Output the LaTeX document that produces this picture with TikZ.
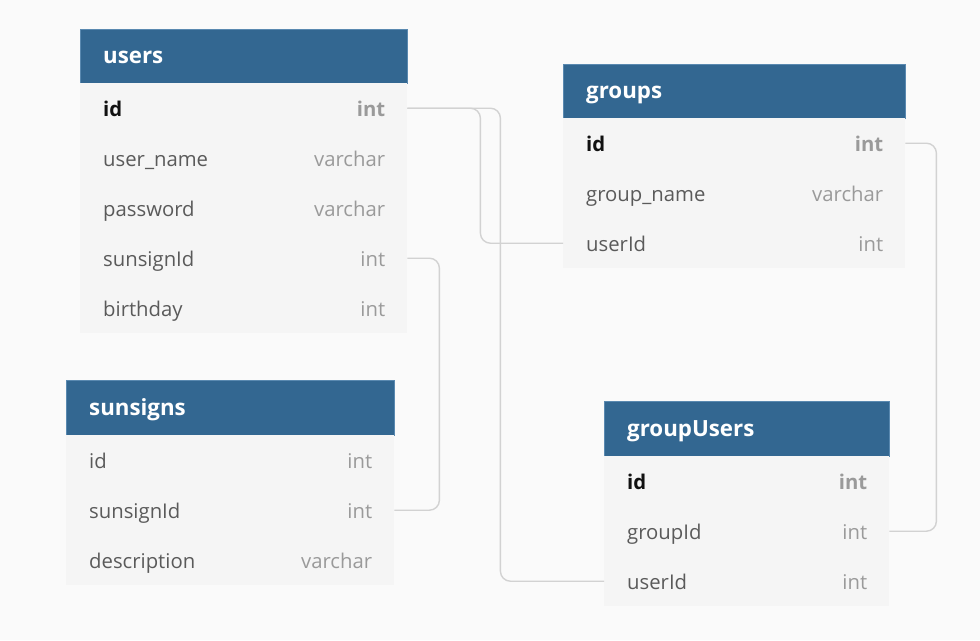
\documentclass[tikz,border=0pt]{standalone}
\usepackage{fontspec}
\setmainfont{Open Sans}
\definecolor{bg}{HTML}{FAFAFA}
\definecolor{hdrblue}{HTML}{336791}
\definecolor{hdrborder}{HTML}{5A89B0}
\definecolor{rowgray}{HTML}{F5F5F5}
\definecolor{namegray}{HTML}{5A5A5A}
\definecolor{typegray}{HTML}{9A9A9A}
\definecolor{keyblack}{HTML}{111111}
\definecolor{linkgray}{HTML}{D2D2D2}
\newcommand\hdrfont{\fontsize{22.3pt}{25pt}\selectfont\bfseries}
\newcommand\bodyfnt{\fontsize{20.3pt}{24pt}\selectfont}
\tikzset{
  hdr/.style={fill=hdrblue, draw=hdrborder, line width=0.6pt, minimum height=54pt, anchor=north west, inner sep=0pt},
  hdrtext/.style={anchor=base west, text=white, font=\hdrfont, inner sep=0pt},
  rowbox/.style={fill=rowgray, draw=none, minimum height=50pt, anchor=north west, inner sep=0pt},
  fname/.style={anchor=base west, text=namegray, font=\bodyfnt, inner sep=0pt},
  ftype/.style={anchor=base east, text=typegray, font=\bodyfnt, inner sep=0pt},
  kname/.style={anchor=base west, text=keyblack, font=\bodyfnt\bfseries, inner sep=0pt},
  ktype/.style={anchor=base east, text=typegray, font=\bodyfnt\bfseries, inner sep=0pt},
  link/.style={draw=linkgray, line width=1.4pt, rounded corners=10pt}
}
% \erow{node}{x}{y}{width}{label}{type}{namestyle}{typestyle}
\newcommand\erow[8]{%
  \node[rowbox, minimum width=#4pt] (#1) at (#2,#3) {};
  \node[#7] (#1-l) at ([xshift=23pt,yshift=-8.5pt]#1.west) {#5};
  \node[#8] (#1-t) at ([xshift=-22pt,yshift=-8.5pt]#1.east) {#6};
}
\newcommand\ehead[6]{%
  \node[hdr, minimum width=#4pt, minimum height=#5pt] (#1) at (#2,#3) {};
  \node[hdrtext] (#1-l) at ([xshift=23pt,yshift=-7.5pt]#1.west) {#6};
}
\begin{document}
\begin{tikzpicture}[x=1pt,y=-1pt]
\useasboundingbox (0,0) rectangle (980,640);
\fill[bg] (0,0) rectangle (980,640);

% users
\ehead{users}{80}{29}{327}{54}{users}
\erow{users-id}{80}{83}{327}{id}{int}{kname}{ktype}
\erow{users-user_name}{80}{133}{327}{user\_name}{varchar}{fname}{ftype}
\erow{users-password}{80}{183}{327}{password}{varchar}{fname}{ftype}
\erow{users-sunsignId}{80}{233}{327}{sunsignId}{int}{fname}{ftype}
\erow{users-birthday}{80}{283}{327}{birthday}{int}{fname}{ftype}

% groups
\ehead{groups}{563}{64}{342}{54}{groups}
\erow{groups-id}{563}{118}{342}{id}{int}{kname}{ktype}
\erow{groups-group_name}{563}{168}{342}{group\_name}{varchar}{fname}{ftype}
\erow{groups-userId}{563}{218}{342}{userId}{int}{fname}{ftype}

% sunsigns
\ehead{sunsigns}{66}{380}{328}{55}{sunsigns}
\erow{sunsigns-id}{66}{435}{328}{id}{int}{fname}{ftype}
\erow{sunsigns-sunsignId}{66}{485}{328}{sunsignId}{int}{fname}{ftype}
\erow{sunsigns-description}{66}{535}{328}{description}{varchar}{fname}{ftype}

% groupUsers
\ehead{groupUsers}{604}{401}{285}{55}{groupUsers}
\erow{groupUsers-id}{604}{456}{285}{id}{int}{kname}{ktype}
\erow{groupUsers-groupId}{604}{506}{285}{groupId}{int}{fname}{ftype}
\erow{groupUsers-userId}{604}{556}{285}{userId}{int}{fname}{ftype}

% connectors
\draw[link] (users-id.east) -- ++(73,0) |- (groups-userId.west);
\draw[link] (users-id.east) -- ++(93,0) |- (groupUsers-userId.west);
\draw[link] (users-sunsignId.east) -- ++(32,0) |- (sunsigns-sunsignId.east);
\draw[link] (groups-id.east) -- ++(31,0) |- (groupUsers-groupId.east);
\end{tikzpicture}
\end{document}
